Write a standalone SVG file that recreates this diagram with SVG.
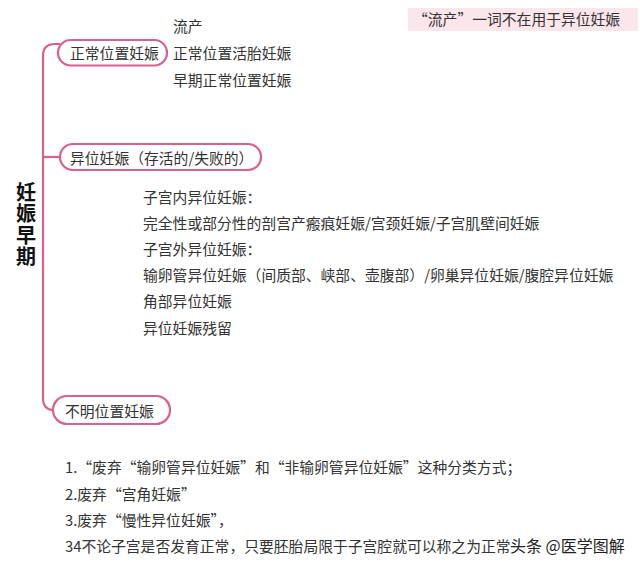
<svg xmlns="http://www.w3.org/2000/svg" width="640" height="567" viewBox="0 0 640 567">
<defs>
<style>
.t{font-family:"Noto Sans CJK SC","Liberation Sans",sans-serif;font-size:14.8px;fill:#333333;}
.pill{fill:#ffffff;stroke:#d95f8e;stroke-width:2.2;}
.ln{fill:none;stroke:#d95f8e;stroke-width:2.2;}
.title{font-family:"Noto Sans CJK SC","Liberation Sans",sans-serif;font-size:20px;font-weight:bold;fill:#111111;}
</style>
</defs>
<rect width="640" height="567" fill="#ffffff"/>
<g id="connectors">
<path class="ln" d="M60,44 L55,44 Q43,44 43,56 L43,398 Q43,410 54,410"/>
<path class="ln" d="M43,157 L60,157"/>
</g>
<g id="title">
<text class="title" x="26" y="182" writing-mode="vertical-rl" letter-spacing="1.5">妊娠早期</text>
</g>
<g id="note-top">
<rect x="408" y="8" width="230" height="23" fill="#fbe6ec"/>
<text class="t" x="413" y="25">“流产”一词不在用于异位妊娠</text>
</g>
<g id="node-normal">
<rect class="pill" x="58" y="40" width="109" height="25.5" rx="12.75"/>
<text class="t" x="70" y="58.5">正常位置妊娠</text>
</g>
<g id="normal-items">
<text class="t" x="173" y="32">流产</text>
<text class="t" x="173" y="58.5">正常位置活胎妊娠</text>
<text class="t" x="173" y="85.5">早期正常位置妊娠</text>
</g>
<g id="node-ectopic">
<rect class="pill" x="60" y="144" width="201" height="26" rx="13"/>
<text class="t" x="70" y="163.5">异位妊娠（存活的/失败的）</text>
</g>
<g id="ectopic-items">
<text class="t" x="143" y="202.5">子宫内异位妊娠：</text>
<text class="t" x="143" y="228.5">完全性或部分性的剖宫产瘢痕妊娠/宫颈妊娠/子宫肌壁间妊娠</text>
<text class="t" x="143" y="254.5">子宫外异位妊娠：</text>
<text class="t" x="143" y="280.5">输卵管异位妊娠（间质部、峡部、壶腹部）/卵巢异位妊娠/腹腔异位妊娠</text>
<text class="t" x="143" y="307">角部异位妊娠</text>
<text class="t" x="143" y="333.5">异位妊娠残留</text>
</g>
<g id="node-unknown">
<rect class="pill" x="53" y="396" width="117" height="28" rx="14"/>
<text class="t" x="65" y="416.5">不明位置妊娠</text>
</g>
<g id="notes">
<text class="t" x="65" y="472.5">1.“废弃“输卵管异位妊娠”和“非输卵管异位妊娠”这种分类方式；</text>
<text class="t" x="65" y="499.5">2.废弃“宫角妊娠”</text>
<text class="t" x="65" y="525.5">3.废弃“慢性异位妊娠”，</text>
<text class="t" x="65" y="551.5">34不论子宫是否发育正常，只要胚胎局限于子宫腔就可以称之为正常</text>
</g>
<g id="watermark">
<text x="510" y="552" font-family="Noto Sans CJK SC,sans-serif" font-size="16" fill="#222222" stroke="#ffffff" stroke-width="2" paint-order="stroke">头条 @医学图解</text>
</g>
</svg>
